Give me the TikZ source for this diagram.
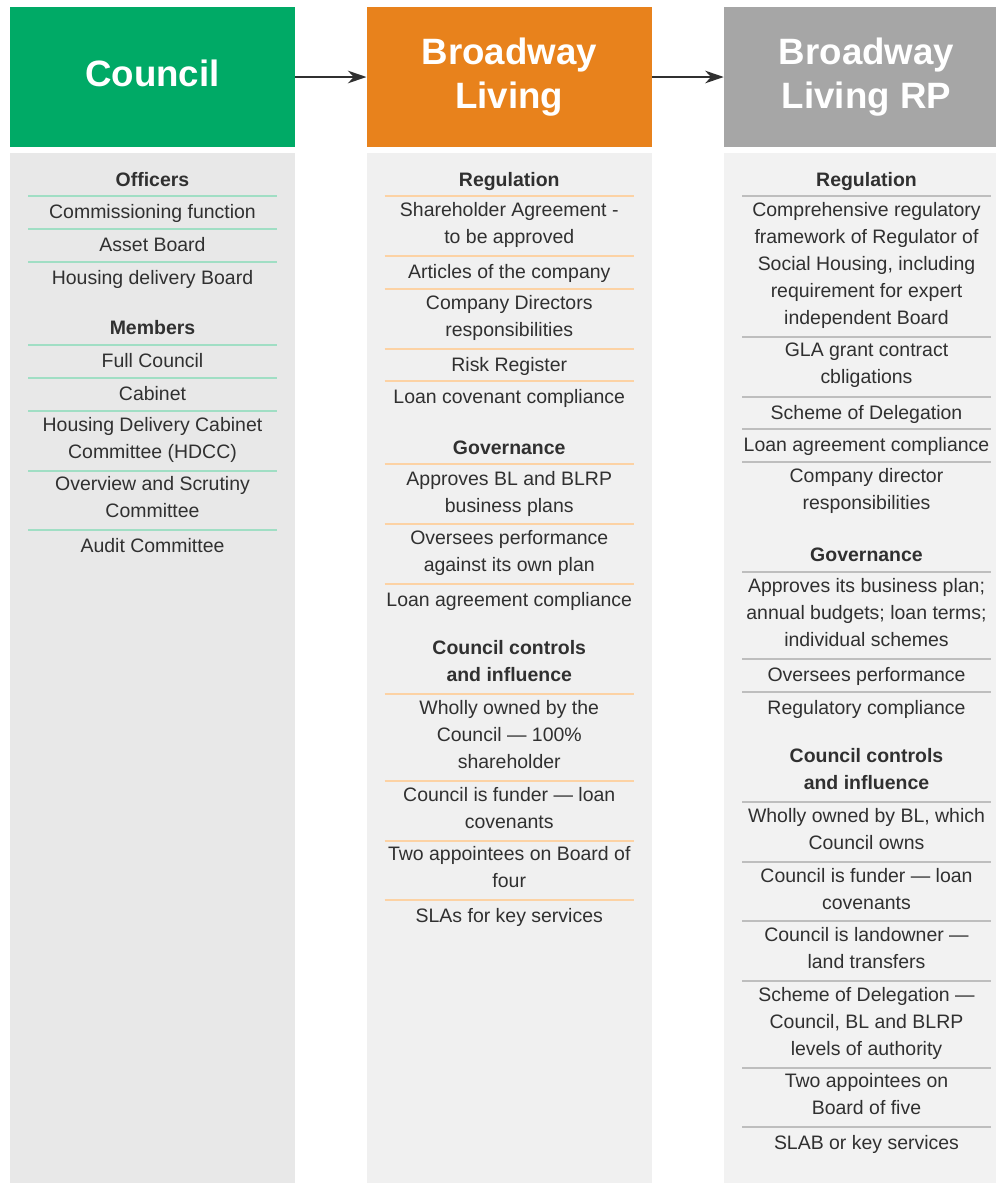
\documentclass[tikz,border=0pt]{standalone}
\usepackage{fontspec}
\setmainfont{Liberation Sans}
\usetikzlibrary{arrows.meta}

\definecolor{councilgreen}{RGB}{0,170,102}
\definecolor{blorange}{RGB}{232,130,28}
\definecolor{rpgray}{RGB}{166,166,166}
\definecolor{panelA}{RGB}{232,232,232}
\definecolor{panelB}{RGB}{240,240,240}
\definecolor{panelC}{RGB}{242,242,242}
\definecolor{sepA}{RGB}{160,222,196}
\definecolor{sepB}{RGB}{252,210,164}
\definecolor{sepC}{RGB}{190,190,190}
\definecolor{ink}{RGB}{48,48,48}

\begin{document}
\begin{tikzpicture}[x=0.75pt,y=-0.75pt,
  hdr/.style={minimum width=213.75pt,minimum height=105pt,inner sep=0pt,
    text=white,align=center,
    font={\fontsize{27.5pt}{33pt}\selectfont\bfseries}},
  entry/.style={text=ink,align=center,inner sep=0pt,yshift=-1.5pt,
    font={\fontsize{14.6pt}{20.25pt}\selectfont},
    execute at begin node=\strut,execute at end node=\strut},
  head/.style={entry,font={\fontsize{14.6pt}{20.25pt}\selectfont\bfseries}},
  link/.style={draw=ink,line width=1.6pt,-{Stealth[length=14pt,width=9.5pt]}},
  sep/.style={line width=0.9pt}
]
\useasboundingbox (0,0) rectangle (996,1183);
\clip (0,0) rectangle (996,1183);

% column panels
\fill[panelA] (10,153) rectangle (295,1190);
\fill[panelB] (366.5,153) rectangle (652,1190);
\fill[panelC] (724,153) rectangle (1009,1190);

% headers
\node[hdr,fill=councilgreen] (council) at (152.5,77) {};
\node[hdr,fill=blorange] (bl) at (509.25,77) {Broadway\\Living};
\node[hdr,fill=rpgray] (rp) at (866.5,77) {Broadway\\Living RP};
\node[text=white,inner sep=0pt,font={\fontsize{27.5pt}{33pt}\selectfont\bfseries}]
  (counciltitle) at (152.5,73) {Council};

\draw[link] (council.east) -- (bl.west);
\draw[link] (bl.east) -- (rp.west);

% ---------- Council column ----------
\foreach \y in {196,229,262,345,378,411,471,530}
  \draw[sep,sepA] (28,\y) -- (277,\y);
\node[head]  (c1)  at (152.5,179) {Officers};
\node[entry] (c2)  at (152.5,211) {Commissioning function};
\node[entry] (c3)  at (152.5,244) {Asset Board};
\node[entry] (c4)  at (152.5,277) {Housing delivery Board};
\node[head]  (c5)  at (152.5,327) {Members};
\node[entry] (c6)  at (152.5,360) {Full Council};
\node[entry] (c7)  at (152.5,393) {Cabinet};
\node[entry] (c8)  at (152.5,439.5) {Housing Delivery Cabinet\\Committee (HDCC)};
\node[entry] (c9)  at (152.5,498.5) {Overview and Scrutiny\\Committee};
\node[entry] (c10) at (152.5,545) {Audit Committee};

% ---------- Broadway Living column ----------
\foreach \y in {196,256,289,349,381,464,524,584,694,781,841,900}
  \draw[sep,sepB] (384.5,\y) -- (634,\y);
\node[head]  (b1)  at (509.25,179) {Regulation};
\node[entry] (b2)  at (509.25,224.5) {Shareholder Agreement -\\to be approved};
\node[entry] (b3)  at (509.25,271) {Articles of the company};
\node[entry] (b4)  at (509.25,317.5) {Company Directors\\responsibilities};
\node[entry] (b5)  at (509.25,364) {Risk Register};
\node[entry] (b6)  at (509.25,396) {Loan covenant compliance};
\node[head]  (b7)  at (509.25,447) {Governance};
\node[entry] (b8)  at (509.25,493.5) {Approves BL and BLRP\\business plans};
\node[entry] (b9)  at (509.25,552.5) {Oversees performance\\against its own plan};
\node[entry] (b10) at (509.25,599) {Loan agreement compliance};
\node[head]  (b11) at (509.25,662.5) {Council controls\\and influence};
\node[entry] (b12) at (509.25,736) {Wholly owned by the\\Council — 100\%\\shareholder};
\node[entry] (b13) at (509.25,809.5) {Council is funder — loan\\covenants};
\node[entry] (b14) at (509.25,869) {Two appointees on Board of\\four};
\node[entry] (b15) at (509.25,915) {SLAs for key services};

% ---------- Broadway Living RP column ----------
\foreach \y in {196,337,397,429,462,572,659,692,802,862,921,981,1068,1127}
  \draw[sep,sepC] (742,\y) -- (991,\y);
\node[head]  (r1)  at (866.5,179) {Regulation};
\node[entry] (r2)  at (866.5,265) {Comprehensive regulatory\\framework of Regulator of\\Social Housing, including\\requirement for expert\\independent Board};
\node[entry] (r3)  at (866.5,365.5) {GLA grant contract\\cbligations};
\node[entry] (r4)  at (866.5,412) {Scheme of Delegation};
\node[entry] (r5)  at (866.5,444) {Loan agreement compliance};
\node[entry] (r6)  at (866.5,490.5) {Company director\\responsibilities};
\node[head]  (r7)  at (866.5,554) {Governance};
\node[entry] (r8)  at (866.5,614) {Approves its business plan;\\annual budgets; loan terms;\\individual schemes};
\node[entry] (r9)  at (866.5,674) {Oversees performance};
\node[entry] (r10) at (866.5,707) {Regulatory compliance};
\node[head]  (r11) at (866.5,770.5) {Council controls\\and influence};
\node[entry] (r12) at (866.5,830.5) {Wholly owned by BL, which\\Council owns};
\node[entry] (r13) at (866.5,890.5) {Council is funder — loan\\covenants};
\node[entry] (r14) at (866.5,949.5) {Council is landowner —\\land transfers};
\node[entry] (r15) at (866.5,1023) {Scheme of Delegation —\\Council, BL and BLRP\\levels of authority};
\node[entry] (r16) at (866.5,1096) {Two appointees on\\Board of five};
\node[entry] (r17) at (866.5,1142) {SLAB or key services};
\end{tikzpicture}
\end{document}
